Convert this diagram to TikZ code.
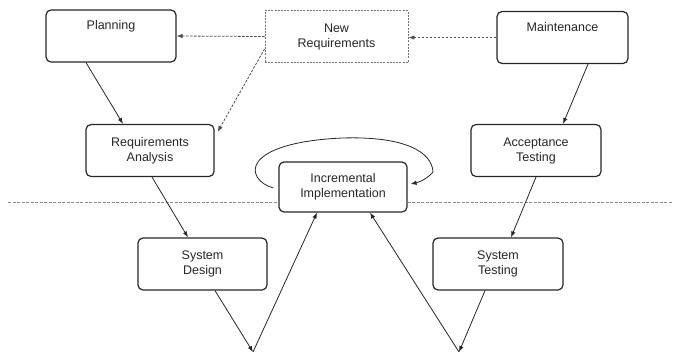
\documentclass[tikz,border=0pt]{standalone}
\usepackage{fontspec}
\setmainfont{Liberation Sans}
\usetikzlibrary{arrows.meta}
\begin{document}
\begin{tikzpicture}[x=1bp,y=-1bp,
  box/.style={draw=black!85, line width=1.2bp, rounded corners=5bp, minimum width=130bp, minimum height=52bp, align=center, inner sep=0pt, font=\fontsize{12.5bp}{15bp}\selectfont, text=black!85},
  dbox/.style={box, rounded corners=0pt, dashed, dash pattern=on 2bp off 1.2bp, draw=black!55, line width=0.9bp},
  conn/.style={draw=black!85, line width=0.8bp, -{Latex[length=6bp,width=4.5bp]}},
  dconn/.style={conn, dashed, dash pattern=on 2.5bp off 1.5bp, draw=black!70},
  sep/.style={draw=black!45, line width=0.7bp, dash pattern=on 3bp off 1.5bp}]
\useasboundingbox (0,0) rectangle (673,354);
\node[box] (plan) at (111,36) {Planning\\[2bp]\strut};
\node[dbox, minimum width=143bp] (newreq) at (336.5,36.5) {New\\Requirements};
\node[box, minimum width=131bp] (maint) at (562.5,37.5) {Maintenance\\[2bp]\strut};
\node[box, minimum width=128bp] (reqan) at (150,150.5) {Requirements\\Analysis};
\node[box] (accept) at (536,150.5) {Acceptance\\Testing};
\node[box, minimum width=128bp, minimum height=50bp] (incr) at (343,187) {Incremental\\Implementation};
\node[box, minimum width=129bp] (sysdes) at (202.5,264) {System\\Design};
\node[box] (systest) at (498,264) {System\\Testing};
\coordinate (vl) at (253,352);
\coordinate (vr) at (459,352);
\coordinate (dl) at (8,202);
\coordinate (dr) at (673,202);
% separator
\draw[sep] (dl) -- (dl -| incr.west);
\draw[sep] (dl -| incr.east) -- (dr);
% dashed feedback
\draw[dconn] (newreq.west) -- (plan.east);
\draw[dconn] ([yshift=14bp]newreq.south west) -- ([xshift=3bp,yshift=-8bp]reqan.north east);
\draw[dconn] (maint.west) -- (newreq.east |- maint.west);
% flow
\draw[conn] ([xshift=-25bp]plan.south) -- ([xshift=-27bp]reqan.north);
\draw[conn] ([xshift=25.5bp]maint.south) -- ([xshift=27bp]accept.north);
\draw[conn] ([xshift=2bp]reqan.south) -- ([xshift=-14.5bp]sysdes.north);
\draw[conn] (accept.south) -- ([xshift=13bp]systest.north);
\draw[conn] ([xshift=12.5bp]sysdes.south) -- (vl);
\draw[conn] (vl) -- ([xshift=-26bp]incr.south);
\draw[conn] ([xshift=-13bp]systest.south) -- (vr);
\draw[conn] (vr) -- ([xshift=27bp]incr.south);
% loop
\draw[conn] ([xshift=-5bp,yshift=-1bp]incr.west) .. controls (245,180) and (238,143) .. (342,138)
  .. controls (405,136) and (432,152) .. (433,172)
  .. controls (428,178) and (420,182) .. ([xshift=3bp,yshift=3bp]incr.east);
\end{tikzpicture}
\end{document}
